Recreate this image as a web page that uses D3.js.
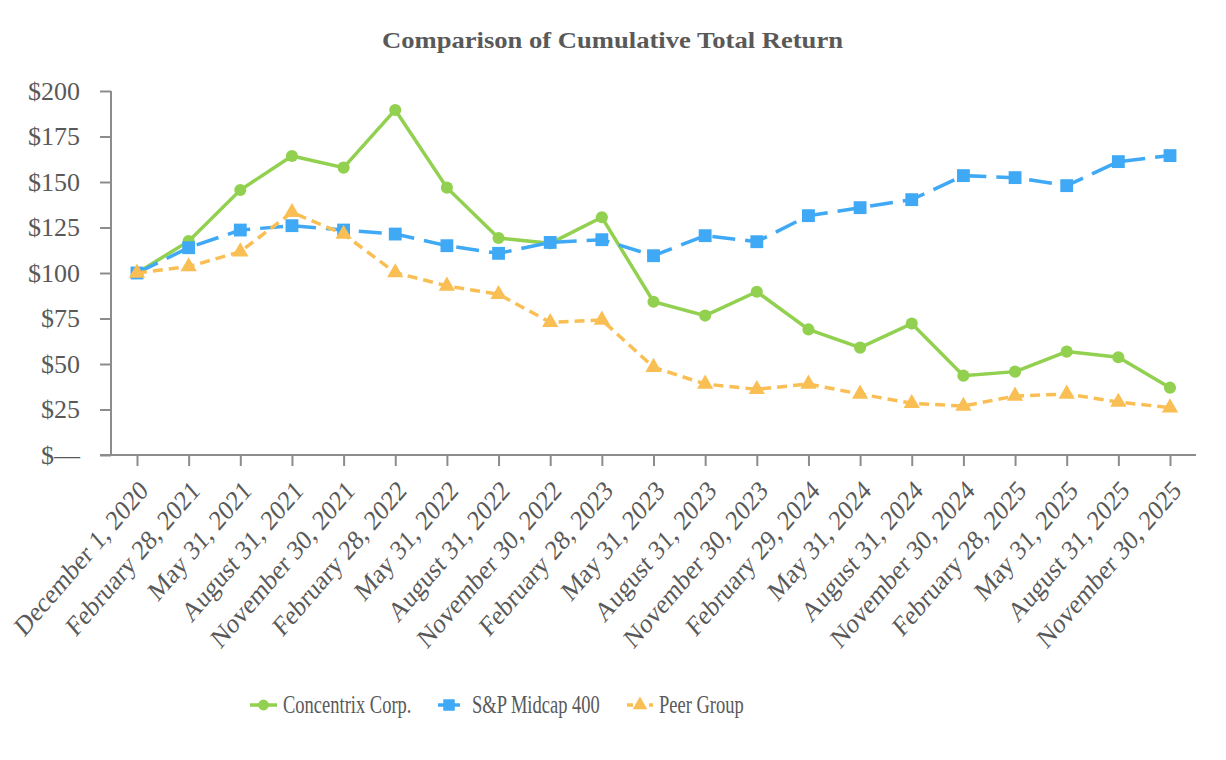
<!DOCTYPE html>
<html>
<head>
<meta charset="utf-8">
<script src="https://cdn.jsdelivr.net/npm/d3@7"></script>
<style>
  body { margin: 0; background: #fff; }
</style>
</head>
<body>
<div id="view"></div>
<script>
// data
var dates = ["December 1, 2020", "February 28, 2021", "May 31, 2021", "August 31, 2021",
  "November 30, 2021", "February 28, 2022", "May 31, 2022", "August 31, 2022",
  "November 30, 2022", "February 28, 2023", "May 31, 2023", "August 31, 2023",
  "November 30, 2023", "February 29, 2024", "May 31, 2024", "August 31, 2024",
  "November 30, 2024", "February 28, 2025", "May 31, 2025", "August 31, 2025",
  "November 30, 2025"];
var concentrix = [100, 117.5, 145.6, 164.3, 157.9, 189.6, 146.9, 119.2, 116.3, 130.6,
  84.2, 76.6, 89.7, 69, 59, 72.2, 43.6, 45.8, 56.8, 53.7, 37];
var midcap = [100, 113.9, 123.6, 126, 123.6, 121.4, 115, 110.8, 116.8, 118.3,
  109.5, 120.5, 117.2, 131.5, 135.9, 140.3, 153.5, 152.4, 148, 161.2, 164.5];
var peer = [100, 103.5, 111.7, 133.3, 121.4, 100.2, 92.9, 88.3, 72.9, 74.2,
  48.2, 39, 36.1, 39, 33.5, 28.4, 26.9, 32.4, 33.5, 29.1, 26];
var yTicks = [0, 25, 50, 75, 100, 125, 150, 175, 200];

var font = "'Liberation Serif', 'DejaVu Serif', serif";
var width = 1226, height = 760;
var svg = d3.select("#view").append("svg")
  .attr("width", width)
  .attr("height", height)
  .attr("font-family", font);

var x = d3.scalePoint().domain(dates).range([137, 1170]);
var y = d3.scaleLinear().domain([0, 200]).range([455, 91]);

svg.append("text")
  .attr("x", 382).attr("y", 48)
  .attr("fill", "#595959")
  .attr("textLength", 461)
  .attr("lengthAdjust", "spacingAndGlyphs")
  .style("font-family", font)
  .style("font-size", "24px")
  .style("font-weight", "bold")
  .text("Comparison of Cumulative Total Return");

// y axis
var yAxis = svg.append("g").attr("transform", "translate(111,0)")
  .call(d3.axisLeft(y).tickValues(yTicks).tickSize(11).tickPadding(20)
    .tickFormat(function(d){ return d === 0 ? "$\u2014" : "$" + d; }));
yAxis.select(".domain").attr("d", "M0,91V455");
yAxis.attr("font-family", font);
yAxis.selectAll("text").style("font-family", font).style("font-size", "26px").attr("fill", "#595959");

// x axis
var xAxis = svg.append("g").attr("transform", "translate(0,455)")
  .call(d3.axisBottom(x).tickSize(11).tickSizeOuter(0));
xAxis.select(".domain").attr("d", "M100,0H1196");
xAxis.attr("font-family", font);
xAxis.selectAll("text")
  .style("font-family", font)
  .style("font-size", "28px")
  .attr("fill", "#595959")
  .attr("text-anchor", "end")
  .attr("y", 0)
  .attr("dy", 0)
  .attr("transform", "translate(12,37) scale(0.86,1) rotate(-45)");
svg.selectAll(".domain, .tick line").attr("stroke", "#8c8c8c").attr("stroke-width", 2);

var series = [
  { name: "Concentrix Corp.", values: concentrix, color: "#92d050", dash: null, shape: d3.symbolCircle, size: 115 },
  { name: "S&P Midcap 400", values: midcap, color: "#3fa9f5", dash: "23,10", shape: d3.symbolSquare, size: 165 },
  { name: "Peer Group", values: peer, color: "#f9bf55", dash: "10,6", shape: d3.symbolTriangle, size: 115 }
];

var line = d3.line()
  .x(function(d, i){ return x(dates[i]); })
  .y(function(d){ return y(d); });

series.forEach(function(s){
  svg.append("path")
    .datum(s.values)
    .attr("fill", "none")
    .attr("stroke", s.color)
    .attr("stroke-width", 3.5)
    .attr("stroke-dasharray", s.dash)
    .attr("d", line);
  svg.selectAll(null)
    .data(s.values)
    .enter().append("path")
    .attr("d", d3.symbol().type(s.shape).size(s.size))
    .attr("fill", s.color)
    .attr("transform", function(d, i){ return "translate(" + x(dates[i]) + "," + y(d) + ")"; });
});

// legend
var legendX = [250, 438, 627];
var legendEnd = [277, 460, 653];
var legendTextX = [283, 472, 659];
series.forEach(function(s, i){
  var g = svg.append("g");
  var x0 = legendX[i], x1 = legendEnd[i];
  g.append("line")
    .attr("x1", x0).attr("x2", x1).attr("y1", 705).attr("y2", 705)
    .attr("stroke", s.color).attr("stroke-width", 3.5)
    .attr("stroke-dasharray", i === 2 ? "6,5" : null);
  g.append("path")
    .attr("d", d3.symbol().type(s.shape).size(s.size * 0.8))
    .attr("fill", s.color)
    .attr("transform", "translate(" + ((x0 + x1) / 2) + ",705)");
  g.append("text")
    .attr("transform", "translate(" + legendTextX[i] + ",713) scale(0.74,1)")
    .attr("fill", "#595959")
    .style("font-family", font)
    .style("font-size", "25px")
    .text(s.name);
});
</script>
</body>
</html>
